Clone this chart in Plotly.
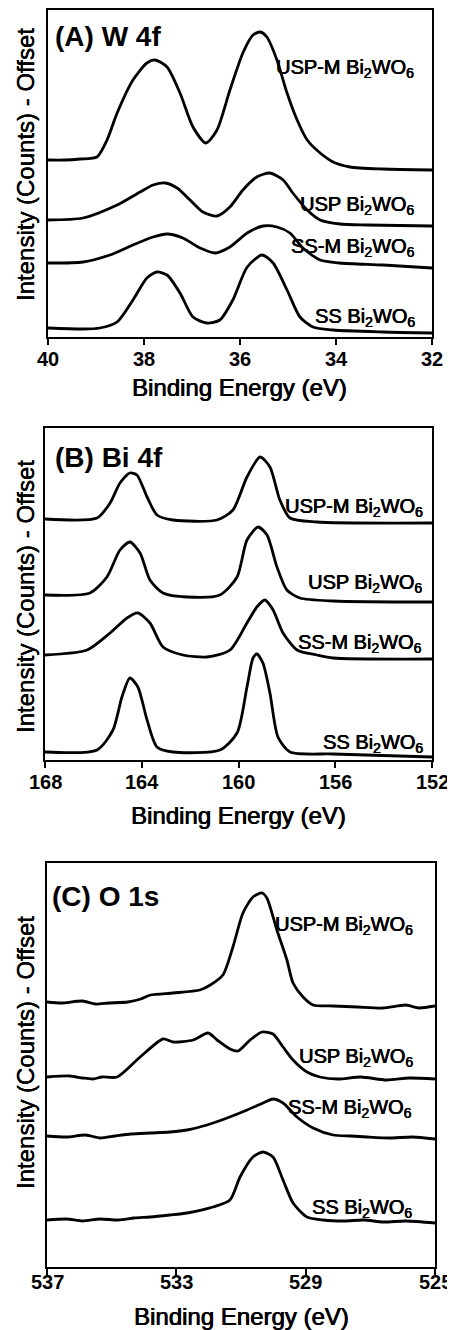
import plotly.graph_objects as go

FONT = "Liberation Sans, Arial, Helvetica, sans-serif"
# page body has an 8px margin; figure is sized so it fills the 455x1330 window
OFF = 8
W, H = 455 - OFF, 1330 - OFF
HEAVY = "0.45px 0px 0px black, -0.2px 0px 0px black"

# ---------------- Panel A: W 4f ----------------
A_ticks = [40, 38, 36, 34, 32]
A_uspm_E = [40.00, 39.65, 39.33, 38.98, 38.77, 38.56, 38.23, 37.94, 37.77, 37.52, 37.25, 36.98, 36.71,
            36.48, 36.21, 35.94, 35.73, 35.58, 35.44, 35.23, 35.02, 34.81, 34.60, 34.33, 34.06,
            33.71, 33.02, 32.00]
A_uspm_I = [177, 177, 178, 180, 197, 224, 257, 274, 277, 270, 244, 210, 194,
            207, 247, 284, 302, 305, 300, 277, 244, 217, 197, 184, 175,
            170, 168, 167]
A_usp_E = [40.00, 39.27, 38.56, 38.08, 37.81, 37.56, 37.31, 37.04, 36.77, 36.48, 36.21, 35.94,
           35.65, 35.38, 35.10, 34.90, 34.60, 34.33, 33.92, 33.35, 32.00]
A_usp_I = [117, 119, 132, 145, 152, 154, 149, 137, 125, 121, 130, 147,
           160, 164, 157, 144, 127, 117, 113, 112, 111]
A_ssm_E = [40.00, 39.27, 38.71, 38.23, 37.81, 37.52, 37.19, 36.83, 36.52, 36.21, 35.85, 35.52,
           35.23, 34.96, 34.69, 34.33, 33.92, 33.02, 32.00]
A_ssm_I = [74, 75, 82, 92, 100, 103, 99, 89, 84, 90, 104, 111,
           110, 104, 89, 77, 74, 72, 69]
A_ss_E = [40.00, 39.27, 38.92, 38.56, 38.23, 37.94, 37.73, 37.52, 37.25, 36.98, 36.69, 36.42,
          36.15, 35.85, 35.54, 35.31, 35.02, 34.75, 34.48, 34.06, 33.02, 32.00]
A_ss_I = [9, 8, 9, 15, 37, 59, 65, 62, 44, 20, 14, 17,
          37, 70, 82, 74, 47, 20, 10, 7, 5, 4]

# ---------------- Panel B: Bi 4f ----------------
B_ticks = [168, 164, 160, 156, 152]
B_uspm_E = [168.00, 165.85, 165.31, 164.90, 164.49, 164.20, 163.78, 163.37, 162.71, 160.89,
            160.23, 159.65, 159.11, 158.70, 158.29, 157.87, 156.76, 152.00]
B_uspm_I = [241, 242, 257, 277, 287, 285, 263, 245, 240, 240,
            250, 283, 303, 293, 260, 242, 238, 237]
B_usp_E = [168.00, 166.14, 165.44, 164.90, 164.49, 164.07, 163.66, 163.12, 162.13, 160.77,
           160.06, 159.65, 159.19, 158.82, 158.41, 158.00, 157.46, 156.09, 152.00]
B_usp_I = [165, 167, 183, 210, 218, 207, 180, 167, 163, 165,
           183, 220, 233, 225, 193, 170, 162, 159, 158]
B_ssm_E = [168.00, 166.26, 165.31, 164.61, 164.16, 163.66, 163.12, 162.30, 161.30, 160.35,
           159.65, 159.24, 158.91, 158.57, 158.16, 157.58, 156.76, 156.09, 152.00]
B_ssm_I = [105, 110, 127, 142, 147, 137, 113, 105, 103, 110,
           137, 153, 160, 150, 127, 110, 105, 102, 101]
B_ss_E = [168.00, 165.85, 165.19, 164.82, 164.49, 164.16, 163.78, 163.37, 162.71, 160.77,
          160.06, 159.65, 159.40, 159.24, 158.99, 158.70, 158.37, 157.87, 156.09, 152.00]
B_ss_I = [8, 10, 30, 63, 82, 73, 40, 13, 8, 10,
          27, 73, 102, 106, 97, 67, 23, 8, 6, 3]

# ---------------- Panel C: O 1s ----------------
C_ticks = [537, 533, 529, 525]
C_uspm_E = [537.00, 536.55, 535.90, 535.50, 535.10, 534.50, 534.10, 533.80, 533.10, 532.27,
            531.95, 531.56, 531.25, 530.94, 530.63, 530.35, 530.20, 529.89, 529.58, 529.39,
            529.08, 528.77, 528.15, 527.40, 526.61, 525.90, 525.50, 525.00]
C_uspm_I = [265, 264, 266, 263, 264, 265, 268, 272, 274, 277,
            282, 292, 320, 354, 370, 374, 369, 337, 307, 284,
            270, 262, 261, 260, 259, 262, 259, 261]
C_usp_E = [537.00, 536.30, 535.90, 535.58, 535.30, 534.83, 534.12, 533.41, 533.10, 532.48,
           532.02, 531.74, 531.34, 531.09, 530.72, 530.35, 530.01, 529.70, 529.39, 528.96,
           528.56, 528.00, 527.30, 526.50, 525.80, 525.00]
C_usp_I = [190, 191, 189, 188, 190, 190, 210, 228, 225, 227,
           234, 227, 218, 216, 227, 235, 233, 220, 207, 195,
           190, 188, 190, 187, 189, 188]
C_ssm_E = [537.00, 536.40, 535.80, 535.36, 534.90, 534.40, 533.81, 533.20, 532.67, 532.05,
           531.43, 530.81, 530.32, 530.01, 529.70, 529.27, 528.77, 528.15, 527.60, 527.10,
           526.40, 525.70, 525.00]
C_ssm_I = [131, 130, 132, 129, 131, 133, 134, 135, 137, 142,
           149, 157, 164, 168, 164, 150, 139, 132, 131, 130,
           129, 130, 128]
C_ss_E = [537.00, 536.40, 535.90, 535.36, 534.80, 534.30, 533.81, 533.20, 532.67, 531.87,
          531.34, 531.03, 530.63, 530.32, 530.01, 529.70, 529.39, 528.96, 528.46, 527.80,
          527.20, 526.60, 525.90, 525.00]
C_ss_I = [47, 48, 46, 48, 47, 49, 50, 52, 54, 60,
          67, 90, 110, 115, 110, 87, 64, 50, 47, 46,
          47, 45, 46, 44]

sample_names = ["USP-M Bi<sub>2</sub>WO<sub>6</sub>", "USP Bi<sub>2</sub>WO<sub>6</sub>",
                "SS-M Bi<sub>2</sub>WO<sub>6</sub>", "SS Bi<sub>2</sub>WO<sub>6</sub>"]
panel_titles = ["(A) W 4f", "(B) Bi 4f", "(C) O 1s"]
x_title = "Binding Energy (eV)"
y_title = "Intensity (Counts) - Offset"

panels = [
    dict(ticks=A_ticks, xr=[40, 32], yr=[0, 327],
         series=[(A_uspm_E, A_uspm_I), (A_usp_E, A_usp_I), (A_ssm_E, A_ssm_I), (A_ss_E, A_ss_I)],
         box=(48, 432, 10, 337), tick_y=359, title_y=388, ytitle_y=165, ptitle_y=37, ptitle_x=53,
         labels=[(416, 68), (416, 205), (417, 247), (417, 318)]),
    dict(ticks=B_ticks, xr=[168, 152], yr=[0, 332],
         series=[(B_uspm_E, B_uspm_I), (B_usp_E, B_usp_I), (B_ssm_E, B_ssm_I), (B_ss_E, B_ss_I)],
         box=(45, 432, 428, 760), tick_y=782, title_y=815, ytitle_y=597, ptitle_y=457, ptitle_x=53,
         labels=[(425, 508), (424, 583), (424, 643), (425, 743)]),
    dict(ticks=C_ticks, xr=[537, 525], yr=[0, 404],
         series=[(C_uspm_E, C_uspm_I), (C_usp_E, C_usp_I), (C_ssm_E, C_ssm_I), (C_ss_E, C_ss_I)],
         box=(47, 435, 863, 1267), tick_y=1282, title_y=1316, ytitle_y=1053, ptitle_y=896, ptitle_x=50,
         labels=[(415, 925), (415, 1057), (414, 1108), (414, 1208)]),
]


def px(x):
    return (x - OFF) / W


def py(y):
    return 1 - (y - OFF) / H


fig = go.Figure()
annotations = []
layout = dict(width=W, height=H, margin=dict(l=0, r=0, t=0, b=0),
              paper_bgcolor="white", plot_bgcolor="white", showlegend=False)

for i, p in enumerate(panels):
    n = "" if i == 0 else str(i + 1)
    l, r, t, b = p["box"]
    for (ex, iy), name in zip(p["series"], sample_names):
        fig.add_trace(go.Scatter(x=ex, y=iy, mode="lines", name=name,
                                 line=dict(color="black", width=2.8, shape="spline", smoothing=0.7),
                                 xaxis="x" + n, yaxis="y" + n, hoverinfo="skip"))
    layout["xaxis" + n] = dict(domain=[px(l), px(r)], range=p["xr"], tickvals=p["ticks"],
                               ticks="outside", ticklen=6, tickwidth=2, tickcolor="black",
                               showline=True, linewidth=2, linecolor="black", mirror=True,
                               showgrid=False, zeroline=False, anchor="y" + n,
                               showticklabels=False)
    layout["yaxis" + n] = dict(domain=[py(b), py(t)], range=p["yr"], showticklabels=False,
                               ticks="", showline=True, linewidth=2, linecolor="black",
                               mirror=True, showgrid=False, zeroline=False, anchor="x" + n)
    # tick labels
    span = p["xr"][0] - p["xr"][1]
    for tv in p["ticks"]:
        xx = l + (p["xr"][0] - tv) / span * (r - l)
        annotations.append(dict(x=px(xx), y=py(p["tick_y"]), xref="paper", yref="paper",
                                text=str(tv), showarrow=False, xanchor="center", yanchor="middle",
                                font=dict(family=FONT, size=20, color="black", weight="bold")))
    annotations.append(dict(x=px((l + r) / 2), y=py(p["title_y"]), xref="paper", yref="paper",
                            text=x_title, showarrow=False, xanchor="center", yanchor="middle",
                            font=dict(family=FONT, size=24, color="black", shadow=HEAVY)))
    annotations.append(dict(x=px(25), y=py(p["ytitle_y"]), xref="paper", yref="paper",
                            text=y_title, showarrow=False, xanchor="center", yanchor="middle",
                            textangle=-90, font=dict(family=FONT, size=24, color="black",
                                                     shadow="0px 0.45px 0px black, 0px -0.2px 0px black")))
    annotations.append(dict(x=px(p["ptitle_x"]), y=py(p["ptitle_y"]), xref="paper", yref="paper",
                            text=panel_titles[i], showarrow=False, xanchor="left", yanchor="middle",
                            font=dict(family=FONT, size=28, color="black", weight="bold")))
    for (lx, ly), name in zip(p["labels"], sample_names):
        annotations.append(dict(x=px(lx), y=py(ly), xref="paper", yref="paper",
                                text=name, showarrow=False, xanchor="right", yanchor="middle",
                                font=dict(family=FONT, size=20, color="black", shadow=HEAVY)))

layout["annotations"] = annotations
fig.update_layout(**layout)
fig.write_html("out.html")
